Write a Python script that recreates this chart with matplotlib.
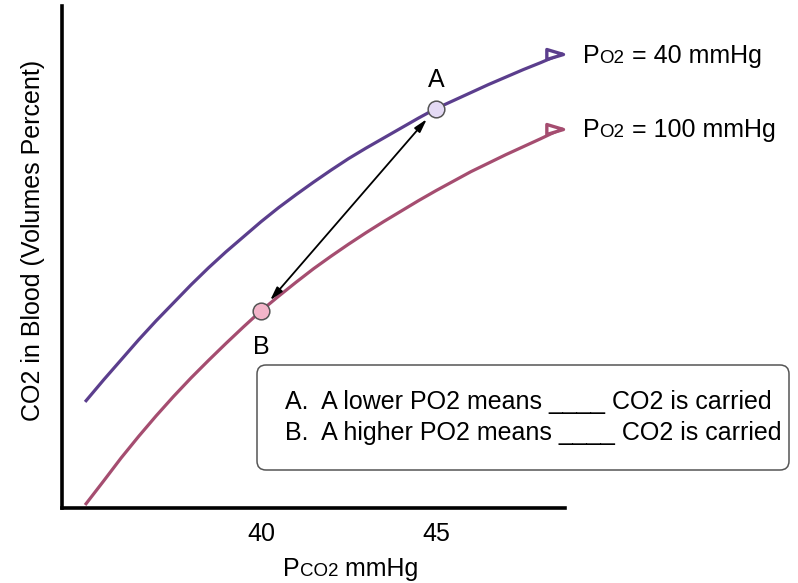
import numpy as np
import matplotlib
matplotlib.use("Agg")
import matplotlib.pyplot as plt
from matplotlib.path import Path
from matplotlib.patches import FancyBboxPatch

plt.rcParams['font.family'] = ['Liberation Sans', 'DejaVu Sans']

# PCO2 (mmHg) and CO2 content (arbitrary volume units)
pco2 = [34.97, 35.5, 36, 36.5, 37, 37.5, 38, 38.5, 39, 39.5, 40, 40.5, 41, 41.5,
        42, 42.5, 43, 43.5, 44, 44.5, 45, 45.5, 46, 46.5, 47, 47.5, 48, 48.3, 48.63]
co2_po2_40 = [10.6, 12.8, 14.8, 16.8, 18.7, 20.5, 22.3, 24.0, 25.6, 27.1, 28.6, 30.0,
              31.3, 32.55, 33.75, 34.9, 35.95, 36.95, 37.95, 38.95, 39.9, 40.7, 41.5,
              42.3, 43.05, 43.8, 44.5, 44.95, 45.4]
co2_po2_100 = [0.3, 2.7, 5.0, 7.15, 9.2, 11.15, 13.0, 14.75, 16.45, 18.1, 19.7, 21.15,
               22.55, 23.9, 25.15, 26.35, 27.5, 28.6, 29.65, 30.7, 31.7, 32.65, 33.6,
               34.45, 35.3, 36.1, 36.9, 37.4, 37.9]

point_a = (45, 39.9)
point_b = (40, 19.7)
xticks = [40, 45]

box_lines = ["A.  A lower PO2 means ____ CO2 is carried",
             "B.  A higher PO2 means ____ CO2 is carried"]

W, H = 798, 583
purple = '#5b3e8d'
pink = '#a54d70'
fs = 18

fig = plt.figure(figsize=(W / 100, H / 100), dpi=100)
ax = fig.add_axes([62 / W, 1 - 508 / H, (565 - 62) / W, (508 - 5.5) / H])

ax.plot(pco2, co2_po2_40, color=purple, lw=2.3, solid_capstyle='butt', zorder=3)
ax.plot(pco2, co2_po2_100, color=pink, lw=2.3, solid_capstyle='butt', zorder=3)

# open triangle heads at the end of each curve (tip at the last point)
tri = Path([(0, 0), (-1, 0.3), (-1, -0.3), (0, 0)],
           [Path.MOVETO, Path.LINETO, Path.LINETO, Path.CLOSEPOLY])
for ys, c in [(co2_po2_40, purple), (co2_po2_100, pink)]:
    ax.plot(pco2[-1], ys[-1], marker=tri, ms=24, mfc='white', mec=c, mew=2.4,
            zorder=4, clip_on=False)

# points A and B
ax.plot(*point_a, 'o', ms=12, mfc='#e4daf4', mec='#555555', mew=1.1, zorder=5)
ax.plot(*point_b, 'o', ms=12, mfc='#f3b5c9', mec='#555555', mew=1.1, zorder=5)
ax.text(point_a[0], point_a[1] + 2.9, 'A', fontsize=fs, ha='center', va='center')
ax.text(point_b[0], point_b[1] - 3.6, 'B', fontsize=fs, ha='center', va='center')

ax.annotate('', xy=point_a, xytext=point_b,
            arrowprops=dict(arrowstyle='<|-|>,head_length=0.8,head_width=0.22',
                            color='black', lw=1.3, shrinkA=10, shrinkB=10),
            zorder=4)

ax.set_xlim(34.31, 48.69)
ax.set_ylim(0, 50.2)
ax.set_xticks(xticks)
ax.set_xticklabels([str(t) for t in xticks], fontsize=fs)
ax.set_yticks([])
ax.tick_params(axis='x', length=0, pad=10)
for s in ['top', 'right']:
    ax.spines[s].set_visible(False)
for s in ['left', 'bottom']:
    ax.spines[s].set_linewidth(2.6)
    ax.spines[s].set_color('black')

renderer = fig.canvas.get_renderer()


def mixed_text(x_px, y_px, parts):
    # draw pieces one after another on the same baseline
    x = x_px
    for s, size in parts:
        t = fig.text(x / W, 1 - y_px / H, s, fontsize=size, ha='left', va='baseline')
        x += t.get_window_extent(renderer).width


small = fs * 0.75
mixed_text(583, 63, [('P', fs), ('O2', small), (' = 40 mmHg', fs)])
mixed_text(583, 137, [('P', fs), ('O2', small), (' = 100 mmHg', fs)])
mixed_text(283, 576, [('P', fs), ('CO2', small), (' mmHg', fs)])

fig.text(33 / W, 1 - 240 / H, 'CO2 in Blood (Volumes Percent)', fontsize=fs,
         rotation=90, ha='center', va='center')

# note box
box = FancyBboxPatch((2.57, (H - 470) / 100), 5.32, 1.05,
                     boxstyle='round,pad=0,rounding_size=0.09',
                     transform=fig.dpi_scale_trans, fc='white', ec='#555555', lw=1.1)
fig.add_artist(box)
for i, line in enumerate(box_lines):
    fig.text(285 / W, 1 - (409 + 31 * i) / H, line, fontsize=fs, ha='left', va='baseline')

fig.savefig('out.png', dpi=100)
